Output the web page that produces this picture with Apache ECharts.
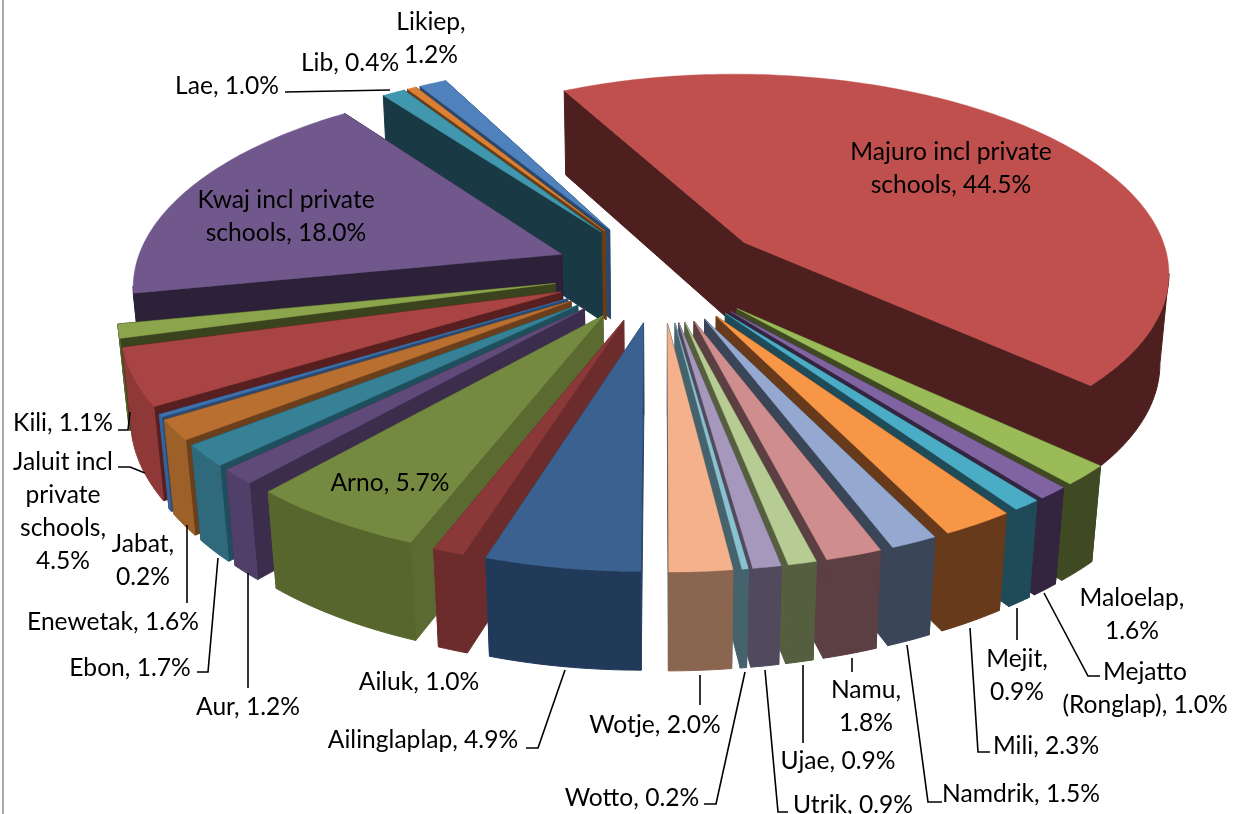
<!DOCTYPE html>
<html><head><meta charset="utf-8">
<style>html,body{margin:0;padding:0;background:#fff}#c{width:1236px;height:814px}</style>
<script src="https://cdn.jsdelivr.net/npm/echarts@6/dist/echarts.min.js"></script>
</head><body><div id="c"></div>
<script>
// ---- data (clockwise from the bottom of the pie) ----
const categories = ['Ailinglaplap','Ailuk','Arno','Aur','Ebon','Enewetak','Jabat','Jaluit incl private schools','Kili','Kwaj incl private schools','Lae','Lib','Likiep','Majuro incl private schools','Maloelap','Mejatto (Ronglap)','Mejit','Mili','Namdrik','Namu','Ujae','Utrik','Wotto','Wotje'];
const values = [4.9,1.0,5.7,1.2,1.7,1.6,0.2,4.5,1.1,18.0,1.0,0.4,1.2,44.5,1.6,1.0,0.9,2.3,1.5,1.8,0.9,0.9,0.2,2.0];
const topColors = ['#3A6190','#8A3838','#758A41','#5F4A79','#368195','#B96F30','#3E72AE','#A84444','#8AA54B','#70588D','#4097AE','#D98036','#4F81BD','#C0504D','#9BBB59','#8064A2','#4BACC6','#F79646','#95A8D0','#CF8D8D','#B6CC92','#A698BC','#8BC2D2','#F5B18C'];
const sideColors = ['#2A456A','#6C2C2C','#5A6A30','#3C2D4C','#1F4F5C','#6B3F1C','#2A4A72','#571F1F','#3A431E','#2C2138','#193A44','#6A3D14','#2B486B','#4E1F1F','#3F4A22','#33253F','#1F4A57','#673A1C','#3A4658','#5B3F42','#555F40','#504A5C','#44636D','#3E5258'];
const rimColors = ['#223A5A','#6C2C2C','#56662D','#503F68','#2F6A7C','#9C6028','#35639A','#8E3838','#56692A','#2C2138','#193A44','#6A3D14','#2B486B','#4E1F1F','#3F4A22','#33253F','#1F4A57','#673A1C','#3A4658','#5B3F42','#555F40','#504A5C','#44636D','#8A6650'];

// ---- label layout ----
const labelFormat = {
  'Likiep':'{n},\n{v}', 'Jaluit incl private schools':'Jaluit incl\nprivate\nschools,\n{v}', 'Jabat':'{n},\n{v}',
  'Kwaj incl private schools':'Kwaj incl private\nschools, {v}', 'Majuro incl private schools':'Majuro incl private\nschools, {v}',
  'Namu':'{n},\n{v}', 'Mejit':'{n},\n{v}', 'Maloelap':'{n},\n{v}', 'Mejatto (Ronglap)':'Mejatto\n(Ronglap), {v}'
};
const labelPos = {
  'Likiep':[431,39],'Lib':[350,63],'Lae':[227,86],'Kwaj incl private schools':[286,217],'Majuro incl private schools':[951,169],
  'Kili':[63,423],'Jaluit incl private schools':[63,512],'Jabat':[143,561],'Enewetak':[113,622],'Ebon':[130,668],'Aur':[248,707],
  'Arno':[390,483],'Ailuk':[419,682],'Ailinglaplap':[423,740],'Wotje':[655,725],'Wotto':[632,798],'Utrik':[853,805],'Ujae':[838,761],
  'Namu':[866,707],'Namdrik':[1021,794],'Mili':[1046,746],'Mejit':[1017,676],'Mejatto (Ronglap)':[1145,689],'Maloelap':[1132,615]
};
const leaders = [
  [[285,92],[390,90]], [[118,430],[128,430],[130,412]], [[118,467],[130,467],[145,473]], [[187,603],[187,525]],
  [[197,672],[208,672],[218,558]], [[248,688],[248,573]], [[526,748],[538,748],[565,670]], [[700,705],[700,675]],
  [[704,804],[716,804],[745,672]], [[788,812],[778,812],[765,670]], [[803,743],[803,665]], [[852,672],[852,658]],
  [[942,802],[928,802],[907,645]], [[990,752],[978,752],[970,628]], [[1017,640],[1017,608]], [[1100,676],[1088,676],[1044,593]]
];

// ---- 3D view ----
const view = {cx:660.5, cy:272, k:0.00032, s:0.465, R:428, E:107, depth:90, depthW:0.018, first:180};
const total = values.reduce((a,b)=>a+b,0);
const rad = d=>d*Math.PI/180;
function project(X,Y,z){
  const w0 = 1 + view.k*Y, w = w0 + view.depthW*z;
  return [view.cx + X/w, view.cy - view.s*Y/w0 + view.depth*z/Math.sqrt(w0)];
}
const slices = []; let acc = view.first;
values.forEach((v,i)=>{ const span=v/total*360; slices.push({i,a0:acc,a1:acc+span,mid:acc+span/2}); acc+=span; });
const drawOrder = slices.slice().sort((p,q)=>Math.cos(rad(q.mid))-Math.cos(rad(p.mid))).map(s=>s.i);

function sliceShapes(i){
  const sl = slices[i];
  const ox = view.E*Math.sin(rad(sl.mid)), oy = view.E*Math.cos(rad(sl.mid));
  const pt = (a,r,z)=>project(ox+r*Math.sin(rad(a)), oy+r*Math.cos(rad(a)), z);
  const n = Math.max(2,Math.ceil(sl.a1-sl.a0));
  const angs=[]; for(let j=0;j<=n;j++) angs.push(sl.a0+(sl.a1-sl.a0)*j/n);
  const poly=(points,fill)=>({type:'polygon',shape:{points},style:{fill,stroke:fill,lineWidth:1}});
  const kids=[];
  const side=sideColors[i], rim=rimColors[i];
  kids.push(poly([pt(0,0,0),pt(sl.a0,view.R,0),pt(sl.a0,view.R,1),pt(0,0,1)],side));
  kids.push(poly([pt(0,0,0),pt(sl.a1,view.R,0),pt(sl.a1,view.R,1),pt(0,0,1)],side));
  const upper=[], lower=[];
  for(let j=0;j<n;j++){
    const a=pt(angs[j],view.R,0), b=pt(angs[j+1],view.R,0);
    if(b[0]<a[0]){
      if(!upper.length){upper.push(a); lower.push(pt(angs[j],view.R,1));}
      upper.push(b); lower.push(pt(angs[j+1],view.R,1));
    }
  }
  if(upper.length) kids.push(poly(upper.concat(lower.reverse()),rim));
  const top=[pt(0,0,0)]; angs.forEach(a=>top.push(pt(a,view.R,0)));
  const tp=poly(top,topColors[i]); tp.style.lineWidth=0.4;
  kids.push(tp);
  return kids;
}

const labelFont = '24.6px Lato, "Open Sans", sans-serif';
const graphics = [{type:'rect',shape:{x:2,y:0,width:2,height:814},style:{fill:'#A9A9A9'},silent:true}];
leaders.forEach(p=>graphics.push({type:'polyline',z:10,shape:{points:p},style:{stroke:'#000',lineWidth:1.6,fill:null}}));
categories.forEach((n,i)=>{
  const t=(labelFormat[n]||'{n}, {v}').replace('{n}',n).replace('{v}',values[i].toFixed(1)+'%');
  graphics.push({type:'text',z:11,x:labelPos[n][0],y:labelPos[n][1],style:{text:t,font:labelFont,lineHeight:33,fill:'#000',align:'center',verticalAlign:'middle'}});
});

const chart = echarts.init(document.getElementById('c'),null,{renderer:'canvas'});
chart.setOption({
  animation:false,
  backgroundColor:'#fff',
  graphic:graphics,
  series:[{
    type:'custom',coordinateSystem:'none',
    data:drawOrder.map(i=>({name:categories[i],value:[i,values[i]]})),
    renderItem:(p,api)=>({type:'group',children:sliceShapes(api.value(0))})
  }]
});
</script></body></html>
